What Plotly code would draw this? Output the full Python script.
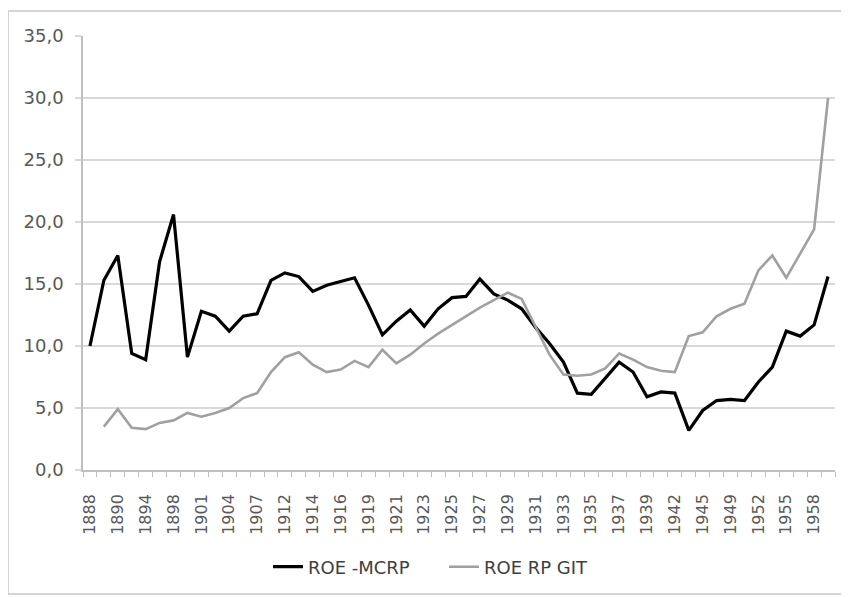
import plotly.graph_objects as go

years = [1888, 1889, 1890, 1892, 1894, 1896, 1898, 1899, 1901, 1902, 1904, 1905,
         1907, 1910, 1912, 1913, 1914, 1915, 1916, 1917, 1919, 1920, 1921, 1922,
         1923, 1924, 1925, 1926, 1927, 1928, 1929, 1930, 1931, 1932, 1933, 1934,
         1935, 1936, 1937, 1938, 1939, 1940, 1942, 1943, 1945, 1947, 1949, 1950,
         1952, 1953, 1955, 1956, 1958, 1959]

roe_mcrp = [10.0, 15.3, 17.3, 9.4, 8.9, 16.8, 20.6, 9.1, 12.8, 12.4, 11.2, 12.4,
            12.6, 15.3, 15.9, 15.6, 14.4, 14.9, 15.2, 15.5, 13.3, 10.9, 12.0, 12.9,
            11.6, 13.0, 13.9, 14.0, 15.4, 14.2, 13.7, 13.0, 11.5, 10.2, 8.7, 6.2,
            6.1, 7.4, 8.7, 7.9, 5.9, 6.3, 6.2, 3.2, 4.8, 5.6, 5.7, 5.6,
            7.1, 8.3, 11.2, 10.8, 11.7, 15.6]

roe_rp_git = [None, 3.5, 4.9, 3.4, 3.3, 3.8, 4.0, 4.6, 4.3, 4.6, 5.0, 5.8,
              6.2, 7.9, 9.1, 9.5, 8.5, 7.9, 8.1, 8.8, 8.3, 9.7, 8.6, 9.3,
              10.2, 11.0, 11.7, 12.4, 13.1, 13.7, 14.3, 13.8, 11.5, 9.3, 7.7, 7.6,
              7.7, 8.2, 9.4, 8.9, 8.3, 8.0, 7.9, 10.8, 11.1, 12.4, 13.0, 13.4,
              16.1, 17.3, 15.5, 17.5, 19.4, 30.0]

series_names = ["ROE -MCRP", "ROE RP GIT"]

pos = list(range(len(years)))
label_pos = pos[::2]
label_text = [str(years[i]) for i in label_pos]

# page body adds an 8px offset; layout numbers below are in figure pixels
OFF = 8
W, H = 849, 597
ML = 83 - OFF
MT = 36 - OFF
MR = W - (835 - OFF)
MB = H - (470 - OFF)
PW, PH = W - ML - MR, H - MT - MB


def px_x(p):
    return (p - OFF - ML) / PW


def px_y(p):
    return (H - MB - (p - OFF)) / PH


fig = go.Figure()
fig.add_trace(go.Scatter(x=pos, y=roe_mcrp, mode="lines", name=series_names[0],
                         line=dict(color="#000000", width=3.2)))
fig.add_trace(go.Scatter(x=pos, y=roe_rp_git, mode="lines", name=series_names[1],
                         line=dict(color="#a0a0a0", width=2.6)))

fig.add_shape(type="rect", xref="paper", yref="paper",
              x0=px_x(8), x1=px_x(846), y0=px_y(594), y1=px_y(11),
              line=dict(color="#c8c8c8", width=1.5), fillcolor="rgba(0,0,0,0)",
              layer="below")

fig.update_layout(
    width=W, height=H,
    margin=dict(l=ML, r=MR, t=MT, b=MB),
    paper_bgcolor="white", plot_bgcolor="white",
    separators=", ",
    font=dict(family="DejaVu Sans", color="#595959", size=15),
    showlegend=True,
    legend=dict(orientation="h", x=px_x(268), xanchor="left", y=px_y(567), yanchor="middle",
                font=dict(size=18, color="#404040"), entrywidth=131,
                bgcolor="rgba(0,0,0,0)", tracegroupgap=0),
)

fig.update_xaxes(
    range=[-0.5, len(years) - 0.5],
    tickmode="array", tickvals=label_pos, ticktext=label_text,
    tickangle=-90, ticks="", ticklabelstandoff=16,
    tickfont=dict(size=16, color="#595959"),
    showgrid=False, zeroline=False,
    showline=True, linecolor="#bfbfbf", linewidth=1.5,
    minor=dict(ticks="outside", ticklen=5, tickcolor="#bfbfbf", tickwidth=1,
               tickmode="linear", tick0=-0.5, dtick=1, showgrid=False),
)

fig.update_yaxes(
    range=[0, 35], tickmode="linear", tick0=0, dtick=5, tickformat=".1f",
    showgrid=True, gridcolor="#d9d9d9", gridwidth=1.5,
    zeroline=False, showline=True, linecolor="#bfbfbf", linewidth=1.5,
    ticks="outside", ticklen=6, tickcolor="#d9d9d9", tickwidth=1.5,
    ticklabelstandoff=8,
    tickfont=dict(size=18, color="#595959"),
)

fig.write_html("out.html")
